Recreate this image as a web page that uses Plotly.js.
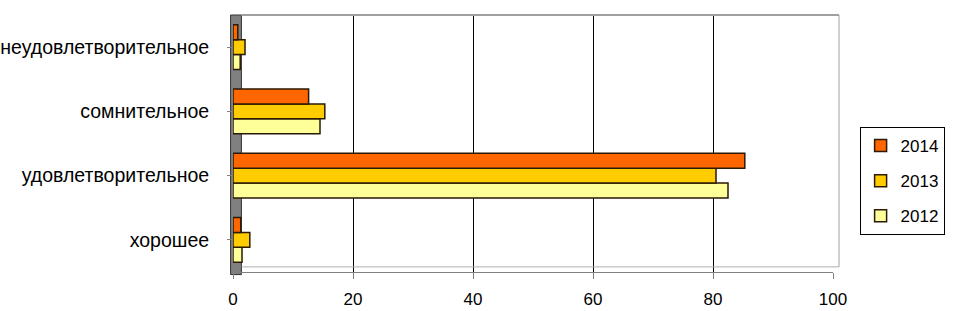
<!DOCTYPE html>
<html>
<head>
<meta charset="utf-8">
<script src="https://cdn.plot.ly/plotly-3.0.1.min.js"></script>
<style>html,body{margin:0;padding:0;background:#fff;}#chart{width:953px;height:311px;}</style>
</head>
<body>
<div id="chart"></div>
<script>
const categories = ["хорошее", "удовлетворительное", "сомнительное", "неудовлетворительное"];
const values2012 = [1.5, 82.5, 14.5, 1.2];
const values2013 = [2.8, 80.5, 15.3, 2.0];
const values2014 = [1.3, 85.3, 12.6, 0.8];
const seriesNames = ["2012", "2013", "2014"];
const xTicks = [0, 20, 40, 60, 80, 100];

const colors = ["#FFFF99", "#FFCC00", "#FF6600"];
const seriesValues = [values2012, values2013, values2014];

const data = seriesValues.map((vals, i) => ({
  type: "bar",
  orientation: "h",
  name: seriesNames[i],
  legendgroup: "g" + i,
  legendrank: 1000 - i,
  y: categories,
  x: vals,
  marker: { color: colors[i], line: { color: "#2a1a05", width: 1.5 } },
  hoverinfo: "x+name"
}));

const layout = {
  width: 953, height: 311,
  margin: { l: 233, r: 120, t: 15, b: 39 },
  paper_bgcolor: "#ffffff",
  plot_bgcolor: "#ffffff",
  font: { family: "Liberation Sans, Arial, sans-serif", size: 16, color: "#000" },
  barmode: "group",
  bargap: 0.3,
  bargroupgap: 0,
  showlegend: true,
  legend: {
    xref: "container", yref: "container",
    x: 0.902, xanchor: "left", y: 0.418, yanchor: "middle",
    traceorder: "grouped",
    bordercolor: "#000", borderwidth: 1,
    bgcolor: "#fff",
    font: { size: 17 },
    itemwidth: 30,
    tracegroupgap: 10
  },
  xaxis: {
    range: [0, 100],
    tickvals: xTicks,
    ticktext: xTicks.map(String),
    showgrid: true, gridcolor: "#000", gridwidth: 1,
    zeroline: false,
    showline: true, linecolor: "#808080", linewidth: 1,
    ticks: "outside", ticklen: 6, tickcolor: "#808080",
    ticklabelstandoff: 6,
    tickfont: { size: 17 },
    mirror: false,
    fixedrange: true
  },
  yaxis: {
    categoryorder: "array", categoryarray: categories,
    showgrid: false, zeroline: false,
    showline: false,
    ticks: "outside", ticklen: 5, tickcolor: "#808080",
    ticklabelstandoff: 14,
    tickfont: { size: 19.5 },
    fixedrange: true
  },
  shapes: [
    { type: "rect", xref: "paper", yref: "paper", x0: -0.004, x1: 0.014, y0: -0.01, y1: 1.0,
      fillcolor: "#808080", line: { color: "#333", width: 1 }, layer: "below" },
    { type: "line", xref: "paper", yref: "paper", x0: 0.014, x1: 1.01, y0: 1.0, y1: 1.0,
      line: { color: "#a0a0a0", width: 2 } },
    { type: "line", xref: "paper", yref: "paper", x0: 1.01, x1: 1.01, y0: 1.0, y1: 0.02,
      line: { color: "#a0a0a0", width: 1 } },
    { type: "line", xref: "paper", yref: "paper", x0: 0.014, x1: 1.01, y0: 0.02, y1: 0.02,
      line: { color: "#b0b0b0", width: 1 } }
  ]
};

Plotly.newPlot("chart", data, layout, { displayModeBar: false, staticPlot: true });
</script>
</body>
</html>
